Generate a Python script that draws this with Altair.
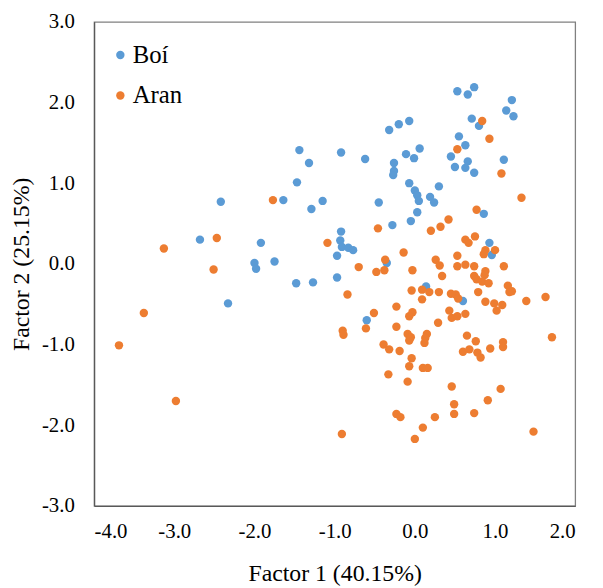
import altair as alt
import pandas as pd

# Boí series (Factor 1, Factor 2)
boi_x = [-2.42, -2.68, -1.92, -2.00, -1.98, -1.75, -2.33, -1.48, -1.27, -1.44,
         -1.32, -1.47, -1.64, -1.29, -1.15,
         0.53, 0.66, 0.74, 1.21, 1.14, 1.23, -0.32, -0.20, -0.07, 0.71,
         0.80, 0.55, 0.63, 0.45, 0.66, 0.50, 0.63, 0.74, 1.11, -0.92,
         -0.62, -0.11, 0.06, -0.01, -0.26, -0.26, -0.27, -0.07, 0.00, 0.30,
         0.03, 0.05, 0.19, 0.24, -0.45, 0.03, -0.05, -0.28, 0.86, -0.92,
         -0.93, -0.91, -0.83, -0.77, -0.97, 0.93, 0.96,
         -0.97, -0.35, 0.14, 0.60, -0.60]
boi_y = [0.77, 0.30, 0.26, 0.01, -0.06, 0.03, -0.49, -0.24, -0.23, 1.41,
         1.25, 1.01, 0.79, 0.68, 0.78,
         2.14, 2.10, 2.19, 2.03, 1.90, 1.83, 1.66, 1.73, 1.77, 1.80,
         1.71, 1.58, 1.47, 1.33, 1.27, 1.20, 1.19, 1.13, 1.29, 1.38,
         1.30, 1.36, 1.43, 1.31, 1.25, 1.15, 1.10, 1.00, 0.91, 0.96,
         0.85, 0.78, 0.83, 0.76, 0.76, 0.64, 0.53, 0.48, 0.62, 0.40,
         0.29, 0.21, 0.20, 0.17, 0.10, 0.26, 0.11,
         -0.17, 0.01, -0.28, -0.46, -0.70]

# Aran series (Factor 1, Factor 2)
aran_x = [-2.47, -3.13, -2.51, -1.77, -3.38, -3.69, -2.98,
          0.84, 0.93, 0.53, 1.08, 1.33, 0.77, -0.46, 0.20, 0.32, 0.42,
          0.63, 0.67, 0.75, -1.09, 0.88, 1.00,
          -0.14, -0.37, 0.53, 0.86, 1.11, -0.70, 0.26, 0.31, 0.53, 0.63, 0.74,
          -0.48, -0.38, -0.03, 0.34,
          0.88, 0.87, 0.74, 0.77, 0.84, 0.92,
          -0.84, -0.04, 0.09, 0.18, 0.09, 0.30, 0.45, 0.51, 0.54, 0.79,
          0.88, 0.99, 1.09, 1.02, 1.16, 1.18, 1.21, 1.39, 1.63, 1.71,
          -0.23, -0.51, -0.03, -0.07, 0.43, 0.46, 0.53, 0.63, 0.29, -0.23,
          -0.61, -0.90, -0.89, -0.09, -0.05, -0.07, 0.15, 0.13, 0.12, 0.65,
          0.76, 1.10, 1.10, -0.39, -0.32, -0.19, 0.60, 0.68, 0.78, 0.82,
          0.94, -0.04, -0.07, 0.10, 0.16, -0.33, -0.09, 0.46, 1.07, 0.91,
          0.49, 0.49, 0.74, -0.23, -0.18, 0.25, 0.10, 0.00, -0.91, 1.48]
aran_y = [0.32, 0.19, -0.07, 0.79, -0.61, -1.01, -1.70,
          1.77, 1.55, 1.42, 1.12, 0.82, 0.67, 0.44, 0.41, 0.46, 0.55,
          0.30, 0.26, 0.34, 0.26, 0.17, 0.17,
          0.14, 0.05, 0.10, 0.12, -0.03, -0.04, 0.05, -0.02, -0.03, -0.01, -0.03,
          -0.10, -0.08, -0.08, -0.15,
          -0.09, -0.14, -0.15, -0.19, -0.22, -0.24,
          -0.38, -0.33, -0.32, -0.35, -0.44, -0.35, -0.37, -0.38, -0.43, -0.35,
          -0.47, -0.49, -0.51, -0.58, -0.27, -0.35, -0.34, -0.46, -0.41, -0.91,
          -0.53, -0.61, -0.60, -0.65, -0.58, -0.67, -0.65, -0.62, -0.73, -0.78,
          -0.80, -0.83, -0.88, -0.87, -0.91, -0.95, -0.87, -0.92, -0.98, -0.89,
          -0.96, -0.97, -1.03, -1.00, -1.06, -1.08, -1.09, -1.06, -1.10, -1.16,
          -1.05, -1.17, -1.27, -1.29, -1.29, -1.37, -1.46, -1.52, -1.55, -1.69,
          -1.74, -1.86, -1.85, -1.86, -1.90, -1.90, -2.03, -2.17, -2.11, -2.08]

series = ["Boí", "Aran"]
colors = ["#5B9BD5", "#ED7D31"]
x_ticks = [-4, -3, -2, -1, 0, 1, 2]
y_ticks = [-3, -2, -1, 0, 1, 2, 3]

rows = []
for i, (a, b) in enumerate(zip(boi_x, boi_y)):
    rows.append({"x": a, "y": b, "site": series[0], "ord": i})
n = len(rows)
for i, (a, b) in enumerate(zip(aran_x, aran_y)):
    rows.append({"x": a, "y": b, "site": series[1], "ord": n + i})
df = pd.DataFrame(rows)

FONT = "Liberation Serif"

common = dict(grid=False, ticks=False, domainColor="#595959", domainWidth=1.3,
              format=".1f",
              labelFont=FONT, labelFontSize=21, labelColor="#000",
              titleFont=FONT, titleFontSize=24, titleFontWeight="normal",
              titleColor="#000")

chart = alt.Chart(df).mark_circle(size=72, opacity=1).encode(
    x=alt.X("x:Q",
            scale=alt.Scale(domain=[-4, 2], nice=False, zero=False),
            axis=alt.Axis(values=x_ticks, title="Factor 1 (40.15%)",
                          labelPadding=15, titlePadding=20, **common)),
    y=alt.Y("y:Q",
            scale=alt.Scale(domain=[-3, 3], nice=False, zero=False),
            axis=alt.Axis(values=y_ticks, title="Factor 2 (25.15%)",
                          labelPadding=20, titlePadding=8, **common)),
    color=alt.Color("site:N",
                    scale=alt.Scale(domain=series, range=colors),
                    legend=alt.Legend(title=None, orient="none", legendX=14, legendY=21,
                                      labelFont=FONT, labelFontSize=25, labelColor="#000",
                                      symbolType="circle", symbolSize=72, labelOffset=0,
                                      rowPadding=15, padding=0)),
    order=alt.Order("ord:Q"),
).properties(
    width=486, height=489,
    padding={"left": 87, "top": 11, "right": 20, "bottom": 80},
    autosize=alt.AutoSizeParams(type="none"),
).configure(
    font=FONT,
    locale=alt.Locale(number=alt.NumberLocale(decimal=".", thousands=",",
                                              grouping=[3], currency=["$", ""],
                                              minus="-")),
).configure_view(
    stroke="#808080", strokeWidth=1.3
).configure_axisX(
    labelFont=FONT
).configure_axisY(
    labelFont=FONT
)

chart.save("out.html", embed_options={"renderer": "svg", "actions": False})
